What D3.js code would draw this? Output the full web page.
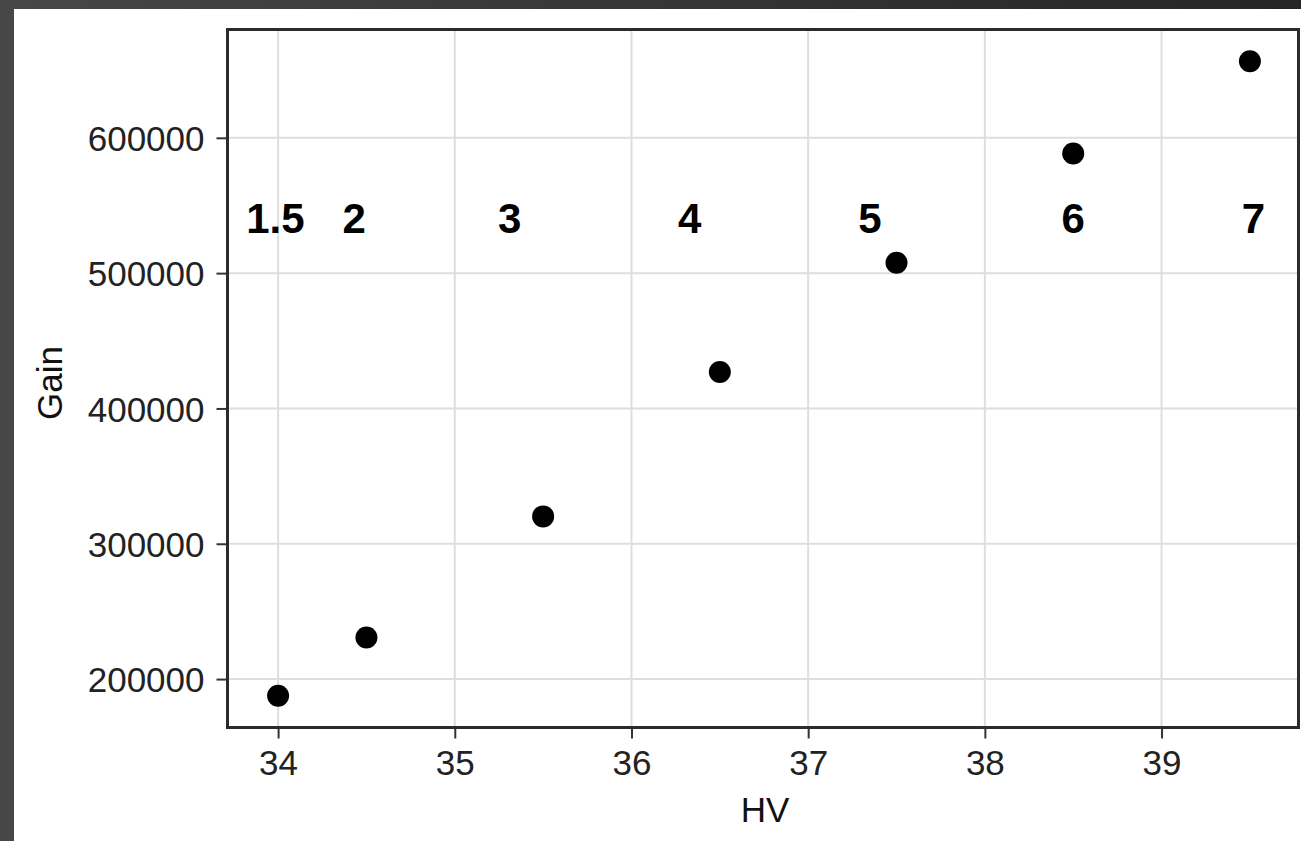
<!DOCTYPE html>
<html>
<head>
<meta charset="utf-8">
<script src="https://cdn.jsdelivr.net/npm/d3@7/dist/d3.min.js"></script>
<style>
  html, body { margin: 0; padding: 0; background: #ffffff; }
  svg { display: block; }
  text { font-family: "Liberation Sans", Arial, sans-serif; }
</style>
</head>
<body>
<div id="chart"></div>
<script>
// ---- data ----
const hv   = [34, 34.5, 35.5, 36.5, 37.5, 38.5, 39.5];
const gain = [187650, 230760, 320230, 427000, 507600, 588400, 656600];
const labelText = ["1.5", "2", "3", "4", "5", "6", "7"];
const labelX    = [33.985, 34.43, 35.31, 36.33, 37.35, 38.5, 39.52];
const labelY    = 541000;
const xTicks = [34, 35, 36, 37, 38, 39];
const yTicks = [200000, 300000, 400000, 500000, 600000];
const xTitle = "HV";
const yTitle = "Gain";

// ---- layout ----
const W = 1301, H = 841;
const frame = { left: 227.5, right: 1298.5, top: 29.5, bottom: 727.5 };

const svg = d3.select("#chart").append("svg")
  .attr("width", W).attr("height", H);

// dark window edges
const defs = svg.append("defs");
const gTop = defs.append("linearGradient").attr("id", "topgrad")
  .attr("x1", "0%").attr("x2", "100%").attr("y1", "0%").attr("y2", "0%");
gTop.append("stop").attr("offset", "0%").attr("stop-color", "#474747");
gTop.append("stop").attr("offset", "100%").attr("stop-color", "#252525");
svg.append("rect").attr("x", 0).attr("y", 0).attr("width", W).attr("height", 9)
  .attr("fill", "url(#topgrad)");
svg.append("rect").attr("x", 0).attr("y", 0).attr("width", 14).attr("height", H)
  .attr("fill", "#474747");

// scales with 5% padding like matplotlib autoscale
function pad(ext) { const d = (ext[1] - ext[0]) * 0.05; return [ext[0] - d, ext[1] + d]; }
const x = d3.scaleLinear().domain(pad(d3.extent(hv))).range([frame.left + 2, frame.right]);
const y = d3.scaleLinear().domain(pad(d3.extent(gain))).range([frame.bottom, frame.top]);

// grid
const grid = svg.append("g");
grid.selectAll("line.gx").data(xTicks).join("line")
  .attr("x1", d => x(d)).attr("x2", d => x(d))
  .attr("y1", frame.top).attr("y2", frame.bottom)
  .attr("stroke", "#dedede").attr("stroke-width", 2);
grid.selectAll("line.gy").data(yTicks).join("line")
  .attr("y1", d => y(d)).attr("y2", d => y(d))
  .attr("x1", frame.left).attr("x2", frame.right)
  .attr("stroke", "#dedede").attr("stroke-width", 2);

// axes
const xAxis = d3.axisBottom(x).tickValues(xTicks).tickSize(11).tickSizeOuter(0).tickPadding(12)
  .tickFormat(d3.format("d"));
const yAxis = d3.axisLeft(y).tickValues(yTicks).tickSize(11).tickSizeOuter(0).tickPadding(12)
  .tickFormat(d3.format("d"));

const gx = svg.append("g").attr("transform", `translate(0,${frame.bottom})`).call(xAxis);
const gy = svg.append("g").attr("transform", `translate(${frame.left},0)`).call(yAxis);
[gx, gy].forEach(g => {
  g.select(".domain").remove();
  g.selectAll(".tick line").attr("stroke", "#333").attr("stroke-width", 2);
  g.selectAll(".tick text").attr("fill", "#222").style("font-size", "35px")
    .style("font-family", "'Liberation Sans', Arial, sans-serif");
});
gx.selectAll(".tick text").attr("dy", "0.71em");
gy.selectAll(".tick text").attr("dy", "0.36em");

// frame
svg.append("rect")
  .attr("x", frame.left).attr("y", frame.top)
  .attr("width", frame.right - frame.left).attr("height", frame.bottom - frame.top)
  .attr("fill", "none").attr("stroke", "#2b2b2b").attr("stroke-width", 3);

// points
svg.append("g").selectAll("circle").data(hv.map((v, i) => [v, gain[i]])).join("circle")
  .attr("cx", d => x(d[0])).attr("cy", d => y(d[1])).attr("r", 11)
  .attr("fill", "#000");

// annotation labels
svg.append("g").selectAll("text").data(labelText).join("text")
  .attr("x", (d, i) => x(labelX[i]))
  .attr("y", y(labelY))
  .attr("dy", "0.36em")
  .attr("text-anchor", "middle")
  .attr("font-weight", "bold")
  .style("font-size", "42px")
  .attr("fill", "#000")
  .text(d => d);

// axis titles
svg.append("text")
  .attr("x", 765).attr("y", 822)
  .attr("text-anchor", "middle")
  .style("font-size", "35px").attr("fill", "#111")
  .text(xTitle);
svg.append("text")
  .attr("transform", "translate(62,383) rotate(-90)")
  .attr("text-anchor", "middle")
  .style("font-size", "35px").attr("fill", "#111")
  .text(yTitle);
</script>
</body>
</html>
